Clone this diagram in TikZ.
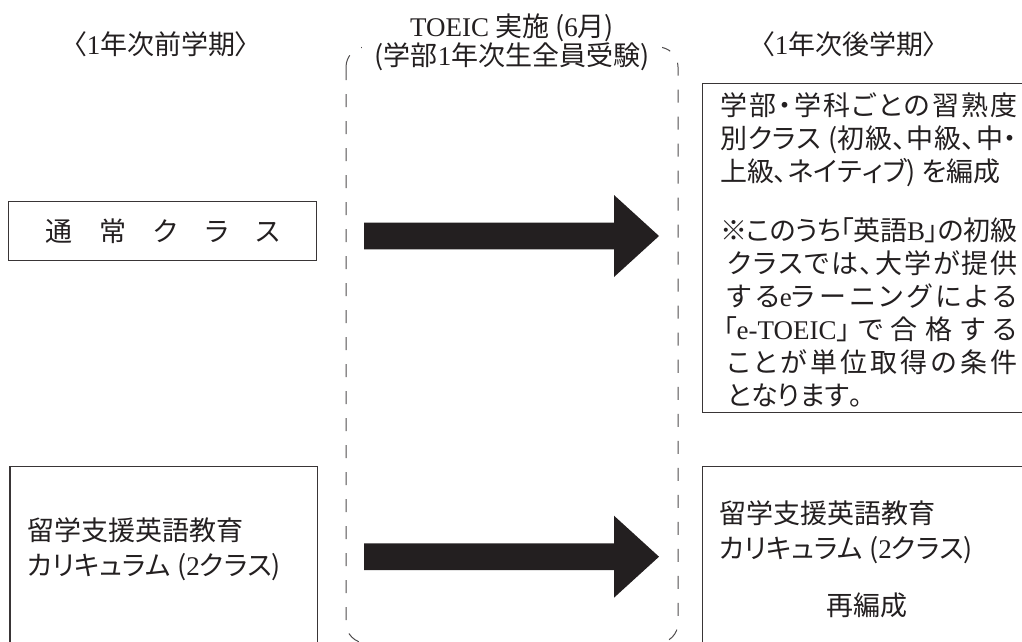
\documentclass[tikz,border=0pt]{standalone}
\usepackage{fontspec}
\setmainfont[RawFeature=+palt]{Noto Sans CJK JP}
\newfontfamily\lat{Liberation Serif}
\usetikzlibrary{calc}
\definecolor{ink}{HTML}{231F20}
% stretchable glue between Japanese characters, for the justified lines
\XeTeXinterchartokenstate=1
\newcount\jc
\jc="3000 \loop \XeTeXcharclass\jc=7 \advance\jc by 1 \ifnum\jc<"3100 \repeat
\jc="4E00 \loop \XeTeXcharclass\jc=7 \advance\jc by 1 \ifnum\jc<"A000 \repeat
\jc="FF00 \loop \XeTeXcharclass\jc=7 \advance\jc by 1 \ifnum\jc<"FF60 \repeat
\XeTeXcharclass"203B=7
\XeTeXinterchartoks 7 7 = {\hskip 0pt plus 1pt minus 0.5pt\relax}
\newcommand\jline[2][297pt]{\makebox[#1][s]{#2}}

\begin{document}
\begin{tikzpicture}[x=1pt, y=-1pt,
    every node/.style={text=ink, inner sep=0pt, font=\fontsize{27}{33}\selectfont},
    box/.style={draw=ink!90, line width=1.2pt},
    frame/.style={draw=ink!80, line width=1pt, dash pattern=on 13pt off 14pt, rounded corners=20pt}]
    \useasboundingbox (0,0) rectangle (1022,641);
    \clip (0,0) rectangle (1022,641);
    % test period frame
    \draw[frame] (346,47) rectangle (678,643);
    \node[anchor=north, align=center, fill=white, inner ysep=4pt, minimum width=300pt,
        font=\fontsize{27}{26}\selectfont] (toeic) at (512,8.3)
        {\rule{0pt}{24pt}{\lat TOEIC} 実施 ({\lat 6}月)\\(学部{\lat 1}年次生全員受験)};
    \node[anchor=base] (first) at (161,54.3) {〈{\lat 1}年次前学期〉};
    \node[anchor=base] (second) at (849,54.3) {〈{\lat 1}年次後学期〉};
    % boxes
    \node[box, minimum width=308.4pt, minimum height=59pt] (regular) at (162.5,231.2)
        {\makebox[235pt][s]{通\hfill 常\hfill ク\hfill ラ\hfill ス}};
    \node[box, anchor=north west, minimum width=340pt, minimum height=329pt] (level) at (702,83) {};
    \node[box, anchor=north west, minimum width=307.4pt, minimum height=200pt] (abroad) at (9.3,466) {};
    \node[box, anchor=north west, minimum width=340pt, minimum height=200pt] (reform) at (702,466) {};
    \node[anchor=north west, align=left] (leveltext) at (720,91.3)
        {\rule{0pt}{24pt}\jline{学部・学科ごとの習熟度}\\
        \jline{別クラス (初級、中級、中・}\\
        上級、ネイティブ) を編成\\[26pt]
        \jline{※このうち「英語{\lat B}」の初級}\\
        \hspace*{7pt}\jline[290pt]{クラスでは、大学が提供}\\
        \hspace*{7pt}\jline[290pt]{する{\lat e}ラーニングによる}\\
        \hspace*{3pt}\jline[294pt]{「{\lat e-TOEIC}」で合格する}\\
        \hspace*{7pt}\jline[290pt]{ことが単位取得の条件}\\
        \hspace*{7pt}となります。};
    \node[anchor=north west, align=left, font=\fontsize{27}{35}\selectfont] (abroadtext) at (27,516.3)
        {\rule{0pt}{24pt}留学支援英語教育\\カリキュラム ({\lat 2}クラス)};
    \node[anchor=north west, align=left, font=\fontsize{27}{35}\selectfont] (reformtext) at (719,499.3)
        {\rule{0pt}{24pt}留学支援英語教育\\カリキュラム ({\lat 2}クラス)};
    \node[anchor=base] (reformnote) at (867,615.3) {再編成};
    % arrows
    \coordinate (a1) at (364,236);
    \coordinate (t1) at (659,236);
    \coordinate (a2) at (364,556.7);
    \coordinate (t2) at (659,556.7);
    \foreach \s/\t in {a1/t1, a2/t2}
        \fill[ink] ($(\s)+(0,-13.3)$) -- ($(\t)+(-45,-13.3)$) -- ($(\t)+(-45,-41)$) -- (\t)
            -- ($(\t)+(-45,41)$) -- ($(\t)+(-45,13.3)$) -- ($(\s)+(0,13.3)$) -- cycle;
\end{tikzpicture}
\end{document}
